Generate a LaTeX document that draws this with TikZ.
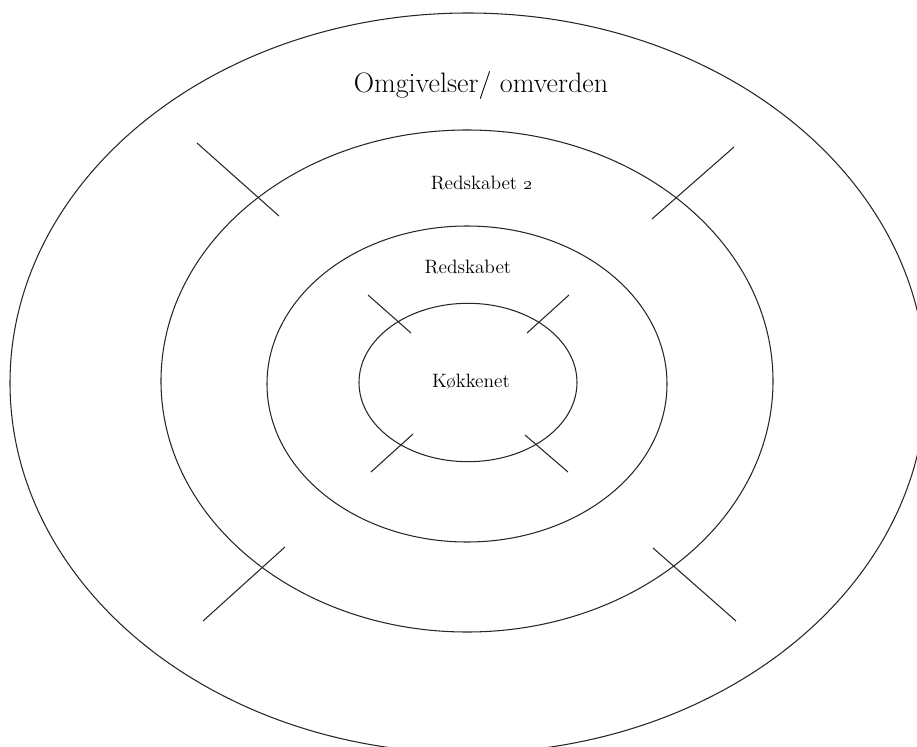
\documentclass[tikz,border=0pt]{standalone}
\usepackage{tikz}

\begin{document}
\begin{tikzpicture}[x=0.02cm, y=-0.02cm]

\def \cx {468}
\def \cy {383}

\tikzstyle{ring}=[draw, line width=0.6pt, black!85]
\tikzstyle{tick}=[draw, line width=0.6pt, black!85]
\tikzstyle{label}=[inner sep=1pt, font=\fontsize{11}{13}\selectfont]

\useasboundingbox (0,0) rectangle (917,747);

% Rings, outer to inner
\draw [ring] (\cx, \cy) ellipse [x radius=458, y radius=370];
\draw [ring] (467, 381) ellipse [x radius=306, y radius=251];
\draw [ring] (467, 384) ellipse [x radius=200, y radius=158];
\draw [ring] (\cx, 382.5) ellipse [x radius=109, y radius=79.2];

% Labels
\node (omgiv) at (481, 85) [label, font=\fontsize{16}{19}\selectfont] {Omgivelser/ omverden};
\node (red2) at (482, 183) [label] {Redskabet \oldstylenums{2}};
\node (red1) at (468, 267) [label] {Redskabet};
\node (kok) at (471, 382) [label] {Køkkenet};

% Ticks across the second ring
\draw [tick] (197, 143) -- (279, 216);
\draw [tick] (734, 147) -- (652, 219);
\draw [tick] (285, 547) -- (203, 621);
\draw [tick] (653, 548) -- (736, 621);

% Ticks across the inner ring
\draw [tick] (368, 295) -- (411, 333);
\draw [tick] (569, 295) -- (527, 333);
\draw [tick] (413, 434) -- (371, 472);
\draw [tick] (525, 435) -- (568, 472);

\end{tikzpicture}
\end{document}
